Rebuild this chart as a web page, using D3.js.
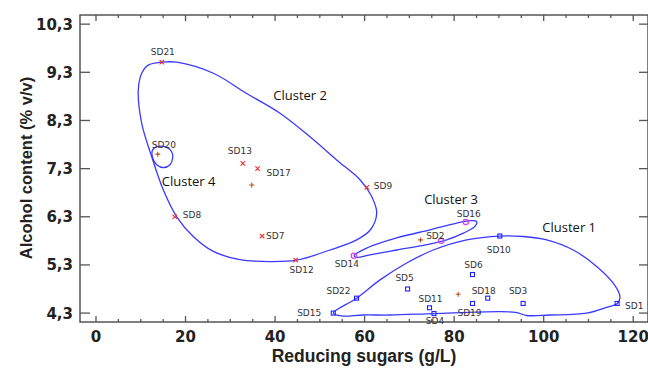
<!DOCTYPE html>
<html>
<head>
<meta charset="utf-8">
<style>
  body { margin: 0; background: #fff; }
  svg { display: block; }
  .tick-label { font-family: 'DejaVu Sans', sans-serif; font-weight: bold; font-size: 15px; fill: #222; }
  .axis-title { font-family: 'Liberation Sans', Arial, sans-serif; font-weight: bold; fill: #222; }
  .pt-label { font-family: 'DejaVu Sans', sans-serif; font-size: 9px; fill: #333; }
  .cl-label { font-family: 'Open Sans', sans-serif; font-size: 13px; fill: #111; }
  .outline { fill: none; stroke: #3a3aff; stroke-width: 1.3px; }
</style>
</head>
<body>
<div id="chart"></div>
<script src="https://cdn.jsdelivr.net/npm/d3@7"></script>
<script>
// samples: reducing sugars (g/L), alcohol (% v/v), cluster
const names   = ['SD1','SD2','SD3','SD4','SD5','SD6','SD7','SD8','SD9','SD10','SD11','SD12','SD13','SD14','SD15','SD16','SD17','SD18','SD19','SD20','SD21','SD22'];
const sugars  = [116.4, 77.1, 95.4, 75.5, 69.6, 84.1, 37.1, 17.6, 60.5, 90.2, 74.5, 44.6, 32.8, 57.6, 53.0, 82.6, 36.1, 87.5, 84.1, 13.8, 14.7, 58.2];
const alcohol = [4.50, 5.80, 4.50, 4.29, 4.80, 5.10, 5.90, 6.30, 6.91, 5.90, 4.41, 5.40, 7.41, 5.49, 4.30, 6.19, 7.30, 4.61, 4.50, 7.60, 9.51, 4.61];
const cluster = [1, 3, 1, 1, 1, 1, 2, 2, 2, 1, 1, 2, 2, 3, 1, 3, 2, 1, 1, 4, 2, 1];

// cluster centres (cluster 4 is SD20 itself)
const centreSugars  = [80.9, 34.8, 72.5];
const centreAlcohol = [4.69, 6.96, 5.82];

// cluster boundaries [sugars, alcohol]
const outline1 = [[53.0,4.30],[58.23,4.61],[63.44,4.99],[69.4,5.34],[75.34,5.61],[82.8,5.82],[90.24,5.90],[95.44,5.89],[100.67,5.82],[106.6,5.61],[111.83,5.27],[115.54,4.92],[117.04,4.64],[116.44,4.50],[114.07,4.42],[109.6,4.30],[101.4,4.26],[96.2,4.25],[94.0,4.31],[90.24,4.33],[75.5,4.29],[65.67,4.26],[59.7,4.26],[54.88,4.24]];
const outline2 = [[14.68,9.51],[18.03,9.51],[26.2,9.28],[33.66,8.86],[41.1,8.45],[47.8,7.96],[53.76,7.48],[58.97,7.07],[61.58,6.72],[62.7,6.37],[61.2,6.02],[58.23,5.82],[52.27,5.61],[44.83,5.40],[38.87,5.37],[32.16,5.41],[26.2,5.58],[21.73,5.89],[18.03,6.30],[15.03,6.86],[12.44,7.55],[10.21,8.24],[9.45,8.93],[10.21,9.28],[11.68,9.45]];
const outline3 = [[57.63,5.49],[60.46,5.65],[67.16,5.86],[74.6,6.03],[80.57,6.17],[83.92,6.22],[85.03,6.20],[84.65,6.10],[82.04,5.96],[78.33,5.82],[73.87,5.72],[67.16,5.61],[61.2,5.51],[58.23,5.46]];
const outline4 = [[12.66,7.69],[13.92,7.76],[15.79,7.74],[16.91,7.65],[17.13,7.52],[16.53,7.38],[15.03,7.32],[13.56,7.38],[12.66,7.52]];

const clusterNames = ['Cluster 1','Cluster 2','Cluster 3','Cluster 4'];
const clusterTextX = [99.7, 39.6, 73.3, 14.7];
const clusterTextY = [5.99, 8.73, 6.57, 6.94];

const xTicks = [0, 20, 40, 60, 80, 100, 120];
const yTicks = [4.3, 5.3, 6.3, 7.3, 8.3, 9.3, 10.3];

// label placement next to each point: dx, dy, anchor
const labelPos = {
  SD1:[8,6,'start'], SD2:[-15,-2,'start'], SD3:[-5,-9,'middle'], SD4:[1,10,'middle'],
  SD5:[-3,-8,'middle'], SD6:[1,-7,'middle'], SD7:[4,3,'start'], SD8:[8,1,'start'],
  SD9:[7,2,'start'], SD10:[-1,17,'middle'], SD11:[1,-6,'middle'], SD12:[6,13,'middle'],
  SD13:[-3,-9,'middle'], SD14:[-7,11,'middle'], SD15:[-12,3,'end'], SD16:[3,-5,'middle'],
  SD17:[9,7,'start'], SD18:[-4,-4,'middle'], SD19:[-3,13,'middle'], SD20:[-6,-6,'start'],
  SD21:[1,-7,'middle'], SD22:[-6,-4,'end']
};

const W = 648, H = 369;
const mLeft = 80, mRight = 648, mTop = 15, mBottom = 322;

const x = d3.scaleLinear().domain([-3.57, 123.3]).range([mLeft, mRight]);
const y = d3.scaleLinear().domain([4.115, 10.49]).range([mBottom, mTop]);

const svg = d3.select('#chart').append('svg').attr('width', W).attr('height', H);

// frame
svg.append('rect')
  .attr('x', mLeft).attr('y', mTop)
  .attr('width', mRight - mLeft).attr('height', mBottom - mTop)
  .attr('fill', 'none').attr('stroke', '#555').attr('stroke-width', 1.5);

const ticks = svg.append('g').attr('stroke', '#555').attr('stroke-width', 1.3);
// x ticks, inward, top and bottom
d3.range(0, 125, 5).forEach(v => {
  const len = v % 20 === 0 ? 6 : 3;
  ticks.append('line').attr('x1', x(v)).attr('x2', x(v)).attr('y1', mBottom).attr('y2', mBottom - len);
  ticks.append('line').attr('x1', x(v)).attr('x2', x(v)).attr('y1', mTop).attr('y2', mTop + len);
});
yTicks.forEach(v => {
  ticks.append('line').attr('x1', mLeft).attr('x2', mLeft + 10).attr('y1', y(v)).attr('y2', y(v));
  ticks.append('line').attr('x1', mRight).attr('x2', mRight - 9).attr('y1', y(v)).attr('y2', y(v));
});

svg.selectAll('.xl').data(xTicks).enter().append('text')
  .attr('class', 'tick-label')
  .attr('x', d => x(d)).attr('y', 342)
  .attr('text-anchor', 'middle')
  .text(d => d);

svg.selectAll('.yl').data(yTicks).enter().append('text')
  .attr('class', 'tick-label')
  .attr('x', 73).attr('y', d => y(d) + 5.5)
  .attr('text-anchor', 'end')
  .text(d => d.toFixed(1).replace('.', ','));

svg.append('text').attr('class', 'axis-title')
  .attr('x', 364).attr('y', 362)
  .attr('text-anchor', 'middle').style('font-size', '17.5px')
  .text('Reducing sugars (g/L)');

svg.append('text').attr('class', 'axis-title')
  .attr('transform', 'translate(32,168) rotate(-90)')
  .attr('text-anchor', 'middle').style('font-size', '16.5px')
  .text('Alcohol content (% v/v)');

// boundaries
const line = d3.line()
  .x(d => x(d[0])).y(d => y(d[1]))
  .curve(d3.curveCatmullRomClosed.alpha(0.5));

[outline1, outline2, outline3, outline4].forEach(o => {
  svg.append('path').attr('class', 'outline').attr('d', line(o));
});

// markers
const pts = names.map((n, i) => ({ name: n, sx: sugars[i], al: alcohol[i], c: cluster[i] }));

function crossPath(px, py, r, diag) {
  if (diag) return `M${px-r},${py-r}L${px+r},${py+r}M${px-r},${py+r}L${px+r},${py-r}`;
  return `M${px-r},${py}L${px+r},${py}M${px},${py-r}L${px},${py+r}`;
}

const mk = svg.append('g');
pts.forEach(p => {
  const px = x(p.sx), py = y(p.al);
  if (p.c === 1) {
    mk.append('rect').attr('x', px - 2).attr('y', py - 2).attr('width', 4).attr('height', 4)
      .attr('fill', 'none').attr('stroke', '#1f1fff').attr('stroke-width', 1.1);
  } else if (p.c === 2) {
    mk.append('path').attr('d', crossPath(px, py, 2.2, true))
      .attr('stroke', '#f03030').attr('stroke-width', 1.1);
  } else if (p.c === 3) {
    mk.append('circle').attr('cx', px).attr('cy', py).attr('r', 2.6)
      .attr('fill', 'none').attr('stroke', '#e040e8').attr('stroke-width', 1.3);
  } else {
    mk.append('path').attr('d', crossPath(px, py, 2.5, false))
      .attr('stroke', '#b5541c').attr('stroke-width', 1.1);
  }
});
centreSugars.forEach((s, i) => {
  mk.append('path').attr('d', crossPath(x(s), y(centreAlcohol[i]), 2.5, false))
    .attr('stroke', '#b5541c').attr('stroke-width', 1.1);
});

// point labels
svg.selectAll('.pl').data(pts).enter().append('text')
  .attr('class', 'pt-label')
  .attr('x', d => x(d.sx) + labelPos[d.name][0])
  .attr('y', d => y(d.al) + labelPos[d.name][1])
  .attr('text-anchor', d => labelPos[d.name][2])
  .text(d => d.name);

// cluster labels
svg.selectAll('.cl').data(clusterNames).enter().append('text')
  .attr('class', 'cl-label')
  .attr('x', (d, i) => x(clusterTextX[i]))
  .attr('y', (d, i) => y(clusterTextY[i]))
  .text(d => d);
</script>
</body>
</html>
